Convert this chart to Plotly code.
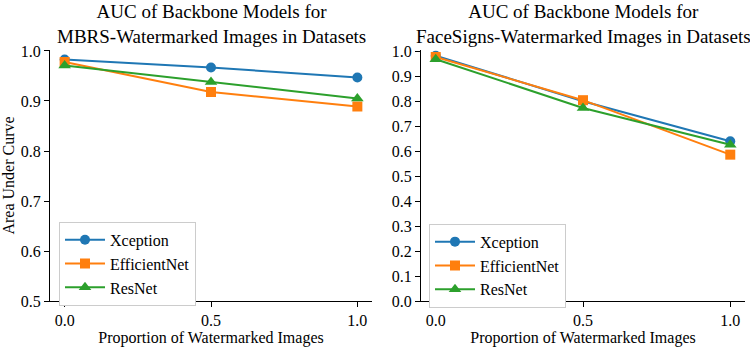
import plotly.graph_objects as go

proportions = [0.0, 0.5, 1.0]
models = ["Xception", "EfficientNet", "ResNet"]
mbrs_auc = {
    "Xception": [0.983, 0.967, 0.947],
    "EfficientNet": [0.978, 0.918, 0.889],
    "ResNet": [0.971, 0.938, 0.905],
}
facesigns_auc = {
    "Xception": [0.982, 0.800, 0.640],
    "EfficientNet": [0.977, 0.804, 0.586],
    "ResNet": [0.968, 0.773, 0.626],
}
colors = {"Xception": "#1f77b4", "EfficientNet": "#ff7f0e", "ResNet": "#2ca02c"}
symbols = {"Xception": "circle", "EfficientNet": "square", "ResNet": "triangle-up"}
msizes = {"Xception": 10, "EfficientNet": 10, "ResNet": 11}

FONT = "Liberation Serif, Times New Roman, serif"

fig = go.Figure()
for m in models:
    fig.add_trace(go.Scatter(
        x=proportions, y=mbrs_auc[m], name=m, mode="lines+markers",
        line=dict(color=colors[m], width=2),
        marker=dict(symbol=symbols[m], size=msizes[m], color=colors[m]),
        xaxis="x", yaxis="y", legend="legend"))
for m in models:
    fig.add_trace(go.Scatter(
        x=proportions, y=facesigns_auc[m], name=m, mode="lines+markers",
        line=dict(color=colors[m], width=2),
        marker=dict(symbol=symbols[m], size=msizes[m], color=colors[m]),
        xaxis="x2", yaxis="y2", legend="legend2"))

axis_common = dict(showline=True, linecolor="black", linewidth=1.2, ticks="outside",
                   ticklen=5, tickcolor="black", showgrid=False, zeroline=False,
                   tickfont=dict(family=FONT, size=16, color="black"))

title_font = dict(family=FONT, size=16, color="black")
legend_font = dict(family=FONT, size=16, color="black")

fig.update_layout(
    width=750, height=354,
    margin=dict(l=0, r=0, t=0, b=0),
    plot_bgcolor="white", paper_bgcolor="white",
    font=dict(family=FONT, color="black", size=16),
    xaxis=dict(domain=[50/750, 372/750], range=[-0.05, 1.05], tickvals=[0, 0.5, 1.0],
               ticktext=["0.0", "0.5", "1.0"], anchor="y",
               title=dict(text="Proportion of Watermarked Images", font=title_font, standoff=2),
               **axis_common),
    yaxis=dict(domain=[46/354, 309/354], range=[0.5, 1.002], tickvals=[0.5, 0.6, 0.7, 0.8, 0.9, 1.0],
               tickformat=".1f", anchor="x",
               title=dict(text="Area Under Curve", font=title_font, standoff=4),
               **axis_common),
    xaxis2=dict(domain=[421/750, 745/750], range=[-0.05, 1.05], tickvals=[0, 0.5, 1.0],
                ticktext=["0.0", "0.5", "1.0"], anchor="y2",
                title=dict(text="Proportion of Watermarked Images", font=title_font, standoff=2),
                **axis_common),
    yaxis2=dict(domain=[46/354, 309/354], range=[0, 1.005], tickvals=[i/10 for i in range(11)],
                tickformat=".1f", anchor="x2", **axis_common),
    legend=dict(x=59/750, y=(354-225)/354, xanchor="left", yanchor="top",
                bgcolor="white", bordercolor="#cccccc", borderwidth=1,
                font=legend_font, tracegroupgap=0, itemwidth=40),
    legend2=dict(x=429/750, y=(354-227)/354, xanchor="left", yanchor="top",
                 bgcolor="white", bordercolor="#cccccc", borderwidth=1,
                 font=legend_font, tracegroupgap=0, itemwidth=40),
    showlegend=True,
    annotations=[
        dict(text="AUC of Backbone Models for<br>MBRS-Watermarked Images in Datasets",
             x=211/750, y=(354-44)/354, xref="paper", yref="paper", xanchor="center", yanchor="bottom",
             showarrow=False, font=dict(family=FONT, size=19)),
        dict(text="AUC of Backbone Models for<br>FaceSigns-Watermarked Images in Datasets",
             x=583/750, y=(354-44)/354, xref="paper", yref="paper", xanchor="center", yanchor="bottom",
             showarrow=False, font=dict(family=FONT, size=19)),
    ],
)

fig.write_html("out.html")
